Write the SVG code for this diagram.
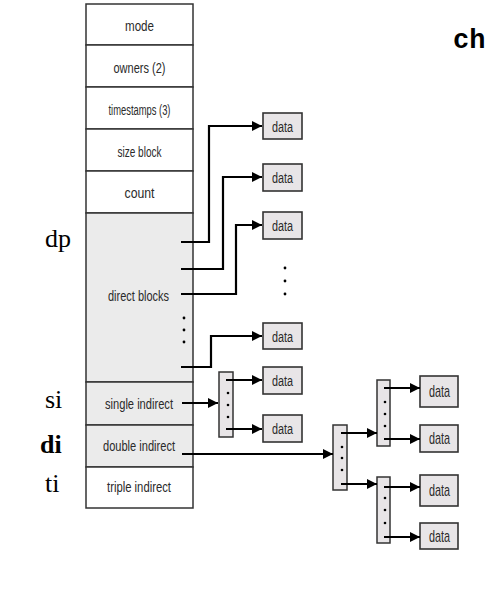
<svg xmlns="http://www.w3.org/2000/svg" width="487" height="596" viewBox="0 0 487 596">
<style>
.cell{stroke:#333;stroke-width:1.5}
.w{fill:#fff}
.g{fill:#ebebeb}
.lbl{font-family:"Liberation Sans",Arial,sans-serif;font-size:15.5px;fill:#2a2a2a;text-anchor:middle}
.dbox{fill:#e8e5e7;stroke:#333;stroke-width:1.6}
.dt{font-family:"Liberation Sans",Arial,sans-serif;font-size:15.5px;fill:#2a2a2a;text-anchor:middle}
.dtb{font-family:"Liberation Sans",Arial,sans-serif;font-size:17px;fill:#2a2a2a;text-anchor:middle}
.ib{fill:#e8e5e7;stroke:#333;stroke-width:1.5}
.side{font-family:"Liberation Serif","Times New Roman",serif;font-size:26px;fill:#000}
.con{fill:none;stroke:#000;stroke-width:2.2}
.dot{fill:#000}
</style>
<defs>
<marker id="ah" markerUnits="userSpaceOnUse" markerWidth="12" markerHeight="12" refX="10" refY="5" orient="auto">
<path d="M0,0 L10,5 L0,10 Z" fill="#000"/>
</marker>
</defs>
<rect width="487" height="596" fill="#fff"/>
<text x="453" y="48" font-family="'Liberation Mono','Courier New',monospace" font-weight="bold" font-size="27">ch</text>

<g id="side-labels">
<text class="side" x="45" y="247">dp</text>
<text class="side" x="45" y="408">si</text>
<text class="side" x="40" y="453" font-weight="bold">di</text>
<text class="side" x="45" y="492">ti</text>
</g>

<g id="inode">
<g id="mode"><rect class="cell w" x="86" y="4" width="107" height="41"/><text class="lbl" x="139.5" y="31" textLength="29" lengthAdjust="spacingAndGlyphs">mode</text></g>
<g id="owners"><rect class="cell w" x="86" y="45" width="107" height="42"/><text class="lbl" x="139.5" y="73" textLength="52" lengthAdjust="spacingAndGlyphs">owners (2)</text></g>
<g id="timestamps"><rect class="cell w" x="86" y="87" width="107" height="42"/><text class="lbl" x="139.5" y="115" textLength="62" lengthAdjust="spacingAndGlyphs">timestamps (3)</text></g>
<g id="sizeblock"><rect class="cell w" x="86" y="129" width="107" height="42"/><text class="lbl" x="139.5" y="157" textLength="44" lengthAdjust="spacingAndGlyphs">size block</text></g>
<g id="count"><rect class="cell w" x="86" y="171" width="107" height="42"/><text class="lbl" x="139.5" y="198" textLength="30" lengthAdjust="spacingAndGlyphs">count</text></g>
<g id="direct"><rect class="cell g" x="86" y="213" width="107" height="169"/><text class="lbl" x="138.5" y="301" textLength="61" lengthAdjust="spacingAndGlyphs">direct blocks</text>
<circle class="dot" cx="184" cy="318" r="1.4"/><circle class="dot" cx="184" cy="330" r="1.4"/><circle class="dot" cx="184" cy="342" r="1.4"/></g>
<g id="single"><rect class="cell g" x="86" y="382" width="107" height="43"/><text class="lbl" x="139" y="409" textLength="68" lengthAdjust="spacingAndGlyphs">single indirect</text></g>
<g id="double"><rect class="cell g" x="86" y="425" width="107" height="42"/><text class="lbl" x="139" y="451" textLength="72" lengthAdjust="spacingAndGlyphs">double indirect</text></g>
<g id="triple"><rect class="cell w" x="86" y="467" width="107" height="41"/><text class="lbl" x="139" y="492" textLength="64" lengthAdjust="spacingAndGlyphs">triple indirect</text></g>
</g>

<g id="data-direct">
<g id="d1"><rect class="dbox" x="263" y="113" width="39" height="26"/><text class="dt" x="282.5" y="132" textLength="21" lengthAdjust="spacingAndGlyphs">data</text></g>
<g id="d2"><rect class="dbox" x="263" y="164" width="39" height="27"/><text class="dt" x="282.5" y="183" textLength="21" lengthAdjust="spacingAndGlyphs">data</text></g>
<g id="d3"><rect class="dbox" x="263" y="212" width="39" height="27"/><text class="dt" x="282.5" y="231" textLength="21" lengthAdjust="spacingAndGlyphs">data</text></g>
<g id="dots-mid"><circle class="dot" cx="285" cy="268" r="1.4"/><circle class="dot" cx="285" cy="281" r="1.4"/><circle class="dot" cx="285" cy="294" r="1.4"/></g>
<g id="d4"><rect class="dbox" x="263" y="323" width="39" height="26"/><text class="dt" x="282.5" y="342" textLength="21" lengthAdjust="spacingAndGlyphs">data</text></g>
</g>

<g id="single-index">
<rect class="ib" x="219" y="372" width="14" height="65"/>
<circle class="dot" cx="228" cy="393" r="1.3"/><circle class="dot" cx="228" cy="405" r="1.3"/><circle class="dot" cx="228" cy="417" r="1.3"/>
</g>
<g id="d5"><rect class="dbox" x="263" y="367" width="39" height="27"/><text class="dt" x="282.5" y="386" textLength="21" lengthAdjust="spacingAndGlyphs">data</text></g>
<g id="d6"><rect class="dbox" x="263" y="415" width="39" height="27"/><text class="dt" x="282.5" y="434" textLength="21" lengthAdjust="spacingAndGlyphs">data</text></g>

<g id="double-index">
<rect class="ib" x="333" y="425" width="14" height="65"/>
<circle class="dot" cx="342" cy="447" r="1.3"/><circle class="dot" cx="342" cy="458" r="1.3"/><circle class="dot" cx="342" cy="470" r="1.3"/>
</g>
<g id="index-a">
<rect class="ib" x="377" y="380" width="13" height="66"/>
<circle class="dot" cx="385" cy="402" r="1.3"/><circle class="dot" cx="385" cy="414" r="1.3"/><circle class="dot" cx="385" cy="426" r="1.3"/>
</g>
<g id="index-b">
<rect class="ib" x="377" y="477" width="13" height="66"/>
<circle class="dot" cx="385" cy="498" r="1.3"/><circle class="dot" cx="385" cy="510" r="1.3"/><circle class="dot" cx="385" cy="523" r="1.3"/>
</g>
<g id="d7"><rect class="dbox" x="420" y="376" width="38" height="31"/><text class="dtb" x="439.5" y="397" textLength="21" lengthAdjust="spacingAndGlyphs">data</text></g>
<g id="d8"><rect class="dbox" x="420" y="425" width="38" height="27"/><text class="dtb" x="439.5" y="444" textLength="21" lengthAdjust="spacingAndGlyphs">data</text></g>
<g id="d9"><rect class="dbox" x="420" y="475" width="38" height="31"/><text class="dtb" x="439.5" y="496" textLength="21" lengthAdjust="spacingAndGlyphs">data</text></g>
<g id="d10"><rect class="dbox" x="420" y="523" width="38" height="26"/><text class="dtb" x="439.5" y="542" textLength="21" lengthAdjust="spacingAndGlyphs">data</text></g>

<g id="connectors">
<path class="con" marker-end="url(#ah)" d="M181,242 H209 V126 H262"/>
<path class="con" marker-end="url(#ah)" d="M181,269 H223 V177 H262"/>
<path class="con" marker-end="url(#ah)" d="M181,294 H236 V225 H262"/>
<path class="con" marker-end="url(#ah)" d="M181,367 H211 V336 H262"/>
<path class="con" marker-end="url(#ah)" d="M182,403 H218"/>
<path class="con" marker-end="url(#ah)" d="M226,380 H262"/>
<path class="con" marker-end="url(#ah)" d="M226,429 H262"/>
<path class="con" marker-end="url(#ah)" d="M182,454 H333"/>
<path class="con" marker-end="url(#ah)" d="M341,433 H377"/>
<path class="con" marker-end="url(#ah)" d="M341,484 H377"/>
<path class="con" marker-end="url(#ah)" d="M384,388 H420"/>
<path class="con" marker-end="url(#ah)" d="M384,439 H420"/>
<path class="con" marker-end="url(#ah)" d="M384,487 H420"/>
<path class="con" marker-end="url(#ah)" d="M384,537 H420"/>
</g>
</svg>
